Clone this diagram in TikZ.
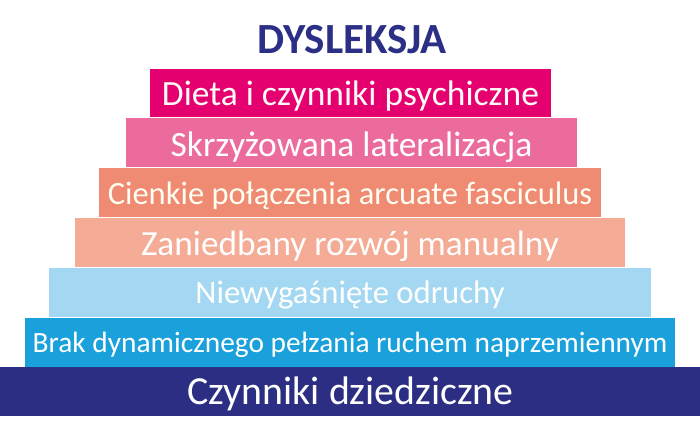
\documentclass[tikz,border=0pt]{standalone}
\usepackage{fontspec}
\setmainfont{Carlito}
\definecolor{navy}{HTML}{2C2F86}
\definecolor{cA}{HTML}{E4006F}
\definecolor{cB}{HTML}{EB6C9C}
\definecolor{cC}{HTML}{EF8A73}
\definecolor{cD}{HTML}{F4AC96}
\definecolor{cE}{HTML}{A4D8F2}
\definecolor{cF}{HTML}{1AA0DB}
\definecolor{cG}{HTML}{2C2E83}
\tikzset{
  bar/.style={fill=#1, draw=none},
  lbl/.style={text=white, inner sep=0pt, anchor=base},
}
\begin{document}
\begin{tikzpicture}[x=1pt,y=-1pt]
\useasboundingbox (0,0) rectangle (700,440);
\fill[white] (0,0) rectangle (700,440);
\node[text=navy, font=\fontsize{43}{45}\selectfont\bfseries, inner sep=0pt, anchor=base] (title) at (352,53) {DYSLEKSJA};
\fill[bar=cA] (150,69) rectangle (551,117);
\node[lbl, font=\fontsize{35.5}{37}\selectfont, text=white!92!pink] (t1) at (350.5,105) {Dieta i czynniki psychiczne};
\fill[bar=cB] (126,118) rectangle (577,167);
\node[lbl, font=\fontsize{35.5}{37}\selectfont] (t2) at (351.5,156) {Skrzyżowana lateralizacja};
\fill[bar=cC] (99,168) rectangle (601,217);
\node[lbl, font=\fontsize{32.5}{34}\selectfont, text=white!95!yellow] (t3) at (350,204) {Cienkie połączenia arcuate fasciculus};
\fill[bar=cD] (75,218) rectangle (625,267);
\node[lbl, font=\fontsize{35.3}{37}\selectfont] (t4) at (350,255) {Zaniedbany rozwój manualny};
\fill[bar=cE] (49,268) rectangle (651,317);
\node[lbl, font=\fontsize{32.7}{34}\selectfont] (t5) at (350,303) {Niewygaśnięte odruchy};
\fill[bar=cF] (25,318) rectangle (675,367);
\node[lbl, font=\fontsize{29.4}{31}\selectfont] (t6) at (350,352) {Brak dynamicznego pełzania ruchem naprzemiennym};
\fill[bar=cG] (0,367) rectangle (700,416);
\node[lbl, font=\fontsize{39.8}{41}\selectfont] (t7) at (350.5,404) {Czynniki dziedziczne};
\end{tikzpicture}
\end{document}
